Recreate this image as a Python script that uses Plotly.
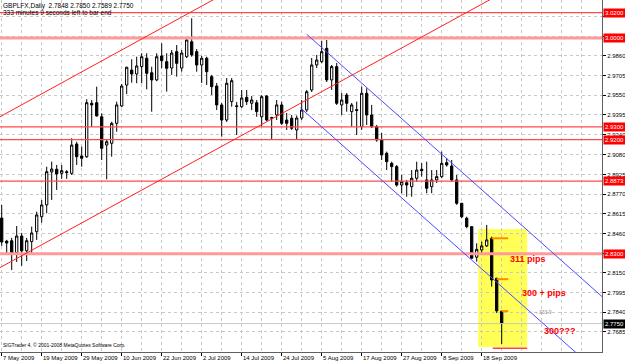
import plotly.graph_objects as go

# ---------------- data ----------------
bars = list(range(101))
opens = [2.8582, 2.8400, 2.8403, 2.8309, 2.8440, 2.8324, 2.8396, 2.8474, 2.8592, 2.8685,
         2.8945, 2.8966, 2.8934, 2.8947, 2.8934, 2.9165, 2.9071, 2.9065, 2.9486, 2.9491,
         2.9380, 2.9157, 2.9171, 2.9328, 2.9465, 2.9630, 2.9748, 2.9717, 2.9775, 2.9841,
         2.9727, 2.9670, 2.9859, 2.9814, 2.9764, 2.9893, 2.9764, 2.9853, 2.9971, 2.9893,
         2.9788, 2.9841, 2.9696, 2.9622, 2.9473, 2.9354, 2.9499, 2.9460, 2.9459, 2.9533,
         2.9486, 2.9491, 2.9380, 2.9543, 2.9368, 2.9394, 2.9473, 2.9354, 2.9368, 2.9276,
         2.9370, 2.9433, 2.9591, 2.9788, 2.9814, 2.9919, 2.9670, 2.9775, 2.9473, 2.9551,
         2.9420, 2.9436, 2.9302, 2.9565, 2.9394, 2.9302, 2.9197, 2.9092, 2.9013, 2.8987,
         2.8842, 2.8860, 2.8829, 2.8895, 2.8966, 2.8882, 2.8829, 2.8882, 2.8908, 2.9018,
         2.8992, 2.8882, 2.8698, 2.8580, 2.8514, 2.8273, 2.8330, 2.8362, 2.8422, 2.8107,
         2.7848]
highs = [2.8685, 2.8410, 2.8425, 2.8519, 2.8465, 2.8425, 2.8514, 2.8632, 2.8724, 2.8986,
         2.9026, 2.9000, 2.9000, 2.8960, 2.9210, 2.9183, 2.9144, 2.9518, 2.9512, 2.9617,
         2.9407, 2.9197, 2.9341, 2.9499, 2.9638, 2.9774, 2.9833, 2.9853, 2.9880, 2.9880,
         2.9774, 2.9880, 2.9959, 2.9880, 2.9906, 2.9945, 2.9906, 3.0001, 3.0156, 2.9914,
         2.9859, 2.9853, 2.9709, 2.9646, 2.9488, 2.9685, 2.9685, 2.9497, 2.9591, 2.9591,
         2.9543, 2.9512, 2.9551, 2.9551, 2.9380, 2.9512, 2.9499, 2.9410, 2.9394, 2.9390,
         2.9512, 2.9591, 2.9843, 2.9867, 2.9979, 2.9985, 2.9788, 2.9804, 2.9567, 2.9567,
         2.9488, 2.9499, 2.9617, 2.9604, 2.9473, 2.9315, 2.9252, 2.9105, 2.9026, 2.9000,
         2.8921, 2.8882, 2.8960, 2.9026, 2.9015, 2.9026, 2.8960, 2.8960, 2.9105, 2.9055,
         2.9039, 2.8921, 2.8700, 2.8592, 2.8519, 2.8383, 2.8396, 2.8527, 2.8435, 2.8110,
         2.7850]
lows = [2.8362, 2.8306, 2.8172, 2.8236, 2.8205, 2.8243, 2.8306, 2.8409, 2.8545, 2.8619,
        2.8724, 2.8803, 2.8890, 2.8890, 2.8921, 2.9000, 2.8986, 2.9055, 2.9302, 2.9381,
        2.9039, 2.8887, 2.9065, 2.9262, 2.9455, 2.9559, 2.9648, 2.9644, 2.9644, 2.9596,
        2.9420, 2.9660, 2.9762, 2.9578, 2.9709, 2.9696, 2.9735, 2.9843, 2.9853, 2.9735,
        2.9646, 2.9630, 2.9551, 2.9433, 2.9223, 2.9339, 2.9459, 2.9236, 2.9450, 2.9473,
        2.9433, 2.9380, 2.9302, 2.9346, 2.9197, 2.9354, 2.9315, 2.9276, 2.9276, 2.9197,
        2.9354, 2.9418, 2.9575, 2.9764, 2.9801, 2.9654, 2.9591, 2.9473, 2.9394, 2.9420,
        2.9302, 2.9236, 2.9276, 2.9315, 2.9291, 2.9183, 2.9039, 2.8960, 2.8868, 2.8829,
        2.8777, 2.8750, 2.8750, 2.8868, 2.8908, 2.8777, 2.8777, 2.8858, 2.8895, 2.8987,
        2.8866, 2.8685, 2.8582, 2.8501, 2.8262, 2.8238, 2.8291, 2.8354, 2.8041, 2.7833,
        2.7589]
closes = [2.8393, 2.8385, 2.8304, 2.8440, 2.8323, 2.8403, 2.8464, 2.8606, 2.8685, 2.8947,
          2.8968, 2.8929, 2.8955, 2.8940, 2.9157, 2.9065, 2.9053, 2.9491, 2.9473, 2.9386,
          2.9131, 2.9183, 2.9328, 2.9473, 2.9622, 2.9770, 2.9717, 2.9780, 2.9853, 2.9722,
          2.9670, 2.9853, 2.9822, 2.9762, 2.9882, 2.9801, 2.9882, 2.9985, 2.9867, 2.9788,
          2.9841, 2.9735, 2.9617, 2.9473, 2.9354, 2.9644, 2.9664, 2.9465, 2.9528, 2.9499,
          2.9512, 2.9420, 2.9538, 2.9354, 2.9373, 2.9473, 2.9328, 2.9328, 2.9289, 2.9370,
          2.9433, 2.9577, 2.9788, 2.9827, 2.9893, 2.9670, 2.9775, 2.9486, 2.9512, 2.9486,
          2.9473, 2.9430, 2.9565, 2.9394, 2.9302, 2.9197, 2.9079, 2.9026, 2.8987, 2.8842,
          2.8868, 2.8842, 2.8895, 2.8960, 2.8955, 2.8816, 2.8882, 2.8908, 2.9013, 2.9000,
          2.8882, 2.8698, 2.8592, 2.8514, 2.8265, 2.8335, 2.8362, 2.8409, 2.8094, 2.7850,
          2.7750]

date_pos = [0, 8, 16, 24, 32, 40, 48, 56, 64, 72, 80, 88, 96]
date_text = ["7 May 2009", "19 May 2009", "29 May 2009", "10 Jun 2009", "22 Jun 2009",
             "2 Jul 2009", "14 Jul 2009", "24 Jul 2009", "5 Aug 2009", "17 Aug 2009",
             "27 Aug 2009", "8 Sep 2009", "18 Sep 2009"]

grid_levels = [2.7525, 2.7685, 2.7840, 2.7995, 2.8150, 2.8305, 2.8460, 2.8615, 2.8770,
               2.8925, 2.9080, 2.9240, 2.9395, 2.9550, 2.9705, 2.9860, 3.0015, 3.0170]
grid_text = ["2.7525", "2.7685", "2.7840", "2.7995", "2.8150", "", "2.8460", "2.8615", "2.8770",
             "2.8925", "2.9080", "2.9240", "2.9395", "2.9550", "2.9705", "2.9860", "", ""]

level_prices = [3.0200, 3.0000, 2.9300, 2.9200, 2.8873, 2.8300]
level_labels = ["3.0200", "3.0000", "2.9300", "2.9200", "2.8873", "2.8300"]
level_thick = [False, True, False, False, False, True]
bid_price = 2.7750
bid_label = "2.7750"

red_low_x, red_low_y = [-1, 100], [2.8177, 3.0353]
red_up_x, red_up_y = [-1, 45], [2.9366, 3.0360]
blue_up_x, blue_up_y = [61, 121], [3.0030, 2.7930]
blue_lo_x, blue_lo_y = [59.7, 121], [2.9451, 2.7306]

box_x = [95.3, 105.1]
box_y = [2.7566, 2.8495]
mark_start = [98, 99, 100]
mark_end = 101.3
mark_price = [2.8422, 2.8100, 2.7848]
base_x, base_y = [98.2, 105.1], 2.7555

notes = ["311 pips", "300 + pips", "300???"]
note_x = [101.3, 103.7, 108.1]
note_y = [2.8259, 2.7991, 2.7692]

header1 = "GBPLFX,Daily  2.7848 2.7850 2.7589 2.7750"
header2 = "333 minutes 9 seconds left to bar end"
footer = "SIGTrader 4, \u00a9 2001-2008 MetaQuotes Software Corp."

FONT = "Liberation Sans, Arial, sans-serif"
X_RANGE = [-0.34, 120.06]
Y_RANGE = [2.7526, 3.0300]

fig = go.Figure()

fig.add_shape(type="rect", xref="x", yref="y", x0=box_x[0], x1=box_x[1],
              y0=box_y[0], y1=box_y[1], fillcolor="#FFFF55", line=dict(width=0), layer="below")

fig.add_trace(go.Candlestick(
    x=bars, open=opens, high=highs, low=lows, close=closes,
    increasing=dict(line=dict(color="#000000", width=1), fillcolor="#FFFFFF"),
    decreasing=dict(line=dict(color="#000000", width=1), fillcolor="#000000"),
    whiskerwidth=0, showlegend=False, hoverinfo="skip"))

def hline(xs, y, color, width):
    fig.add_trace(go.Scatter(x=xs, y=[y, y], mode="lines", line=dict(color=color, width=width),
                             showlegend=False, hoverinfo="skip"))

hline([-1, 121], bid_price, "#C8C8C8", 1)
for p, thick in zip(level_prices, level_thick):
    if thick:
        hline([-1, 121], p, "#FF9A9A", 3)
    else:
        hline([-1, 121], p, "#FF4A4A", 1.2)

for xs, ys, col in [(red_low_x, red_low_y, "#FF2020"), (red_up_x, red_up_y, "#FF2020"),
                    (blue_up_x, blue_up_y, "#4A4AFF"), (blue_lo_x, blue_lo_y, "#4A4AFF")]:
    fig.add_trace(go.Scatter(x=xs, y=ys, mode="lines", line=dict(color=col, width=1),
                             showlegend=False, hoverinfo="skip"))

for s, p in zip(mark_start, mark_price):
    hline([s, mark_end], p, "#FF8C00", 2)
hline(base_x, base_y, "#FF4040", 1.5)

ann = []
for t, x, y in zip(notes, note_x, note_y):
    ann.append(dict(x=x, y=y, xref="x", yref="y", text=t, showarrow=False, xanchor="left",
                    yanchor="middle", font=dict(family=FONT, size=9, color="#FF0000", weight="bold")))
ann.append(dict(x=106.5, y=2.7838, xref="x", yref="y", text="\u2039 333.9", showarrow=False,
                xanchor="left", yanchor="middle", font=dict(family=FONT, size=5, color="#909090")))

for p, lab in zip(level_prices, level_labels):
    ann.append(dict(x=1, y=p, xref="paper", yref="y", text=lab, showarrow=False, xanchor="left",
                    yanchor="middle", xshift=1, bgcolor="#FF0000", borderpad=1,
                    font=dict(family=FONT, size=6, color="#FFFFFF")))
ann.append(dict(x=1, y=bid_price, xref="paper", yref="y", text=bid_label, showarrow=False,
                xanchor="left", yanchor="middle", xshift=1, bgcolor="#000000", borderpad=1,
                font=dict(family=FONT, size=6, color="#FFFFFF")))

for x, t in zip(date_pos, date_text):
    ann.append(dict(x=x, y=0, xref="x", yref="paper", text=t, showarrow=False, xanchor="left",
                    yanchor="top", xshift=-1, yshift=-1, font=dict(family=FONT, size=6, color="#000000")))

ann.append(dict(x=0, y=1, xref="paper", yref="paper", text=header1, showarrow=False,
                xanchor="left", yanchor="top", xshift=1, yshift=0,
                font=dict(family=FONT, size=6.5, color="#000000")))
ann.append(dict(x=0, y=1, xref="paper", yref="paper", text=header2, showarrow=False,
                xanchor="left", yanchor="top", xshift=1, yshift=-7,
                font=dict(family=FONT, size=6.5, color="#000000")))
ann.append(dict(x=0, y=0, xref="paper", yref="paper", text=footer, showarrow=False,
                xanchor="left", yanchor="middle", xshift=1, yshift=7,
                font=dict(family=FONT, size=5, color="#000000")))

fig.update_layout(
    width=625, height=363, margin=dict(l=0, r=23, t=0, b=11),
    paper_bgcolor="#FFFFFF", plot_bgcolor="#FFFFFF",
    boxgap=0.35, annotations=ann, showlegend=False,
    xaxis=dict(range=X_RANGE, rangeslider=dict(visible=False), tickmode="array",
               tickvals=date_pos, showticklabels=False, ticks="outside", ticklen=3,
               tickcolor="#000000", showgrid=True, gridcolor="#C8C8C8", griddash="dot",
               gridwidth=1, zeroline=False, showline=True, linecolor="#606060", linewidth=1,
               minor=dict(tickvals=[v + 4 for v in date_pos] + [104, 108, 112, 116, 120],
                          showgrid=True, gridcolor="#C8C8C8", griddash="dot", ticks="")),
    yaxis=dict(range=Y_RANGE, side="right", tickmode="array", tickvals=grid_levels,
               ticktext=grid_text, ticks="outside", ticklen=3, tickcolor="#000000",
               tickfont=dict(family=FONT, size=6, color="#000000"),
               showgrid=True, gridcolor="#C8C8C8", griddash="dot", gridwidth=1,
               zeroline=False, showline=True, linecolor="#606060", linewidth=1),
)

fig.write_html("out.html")
